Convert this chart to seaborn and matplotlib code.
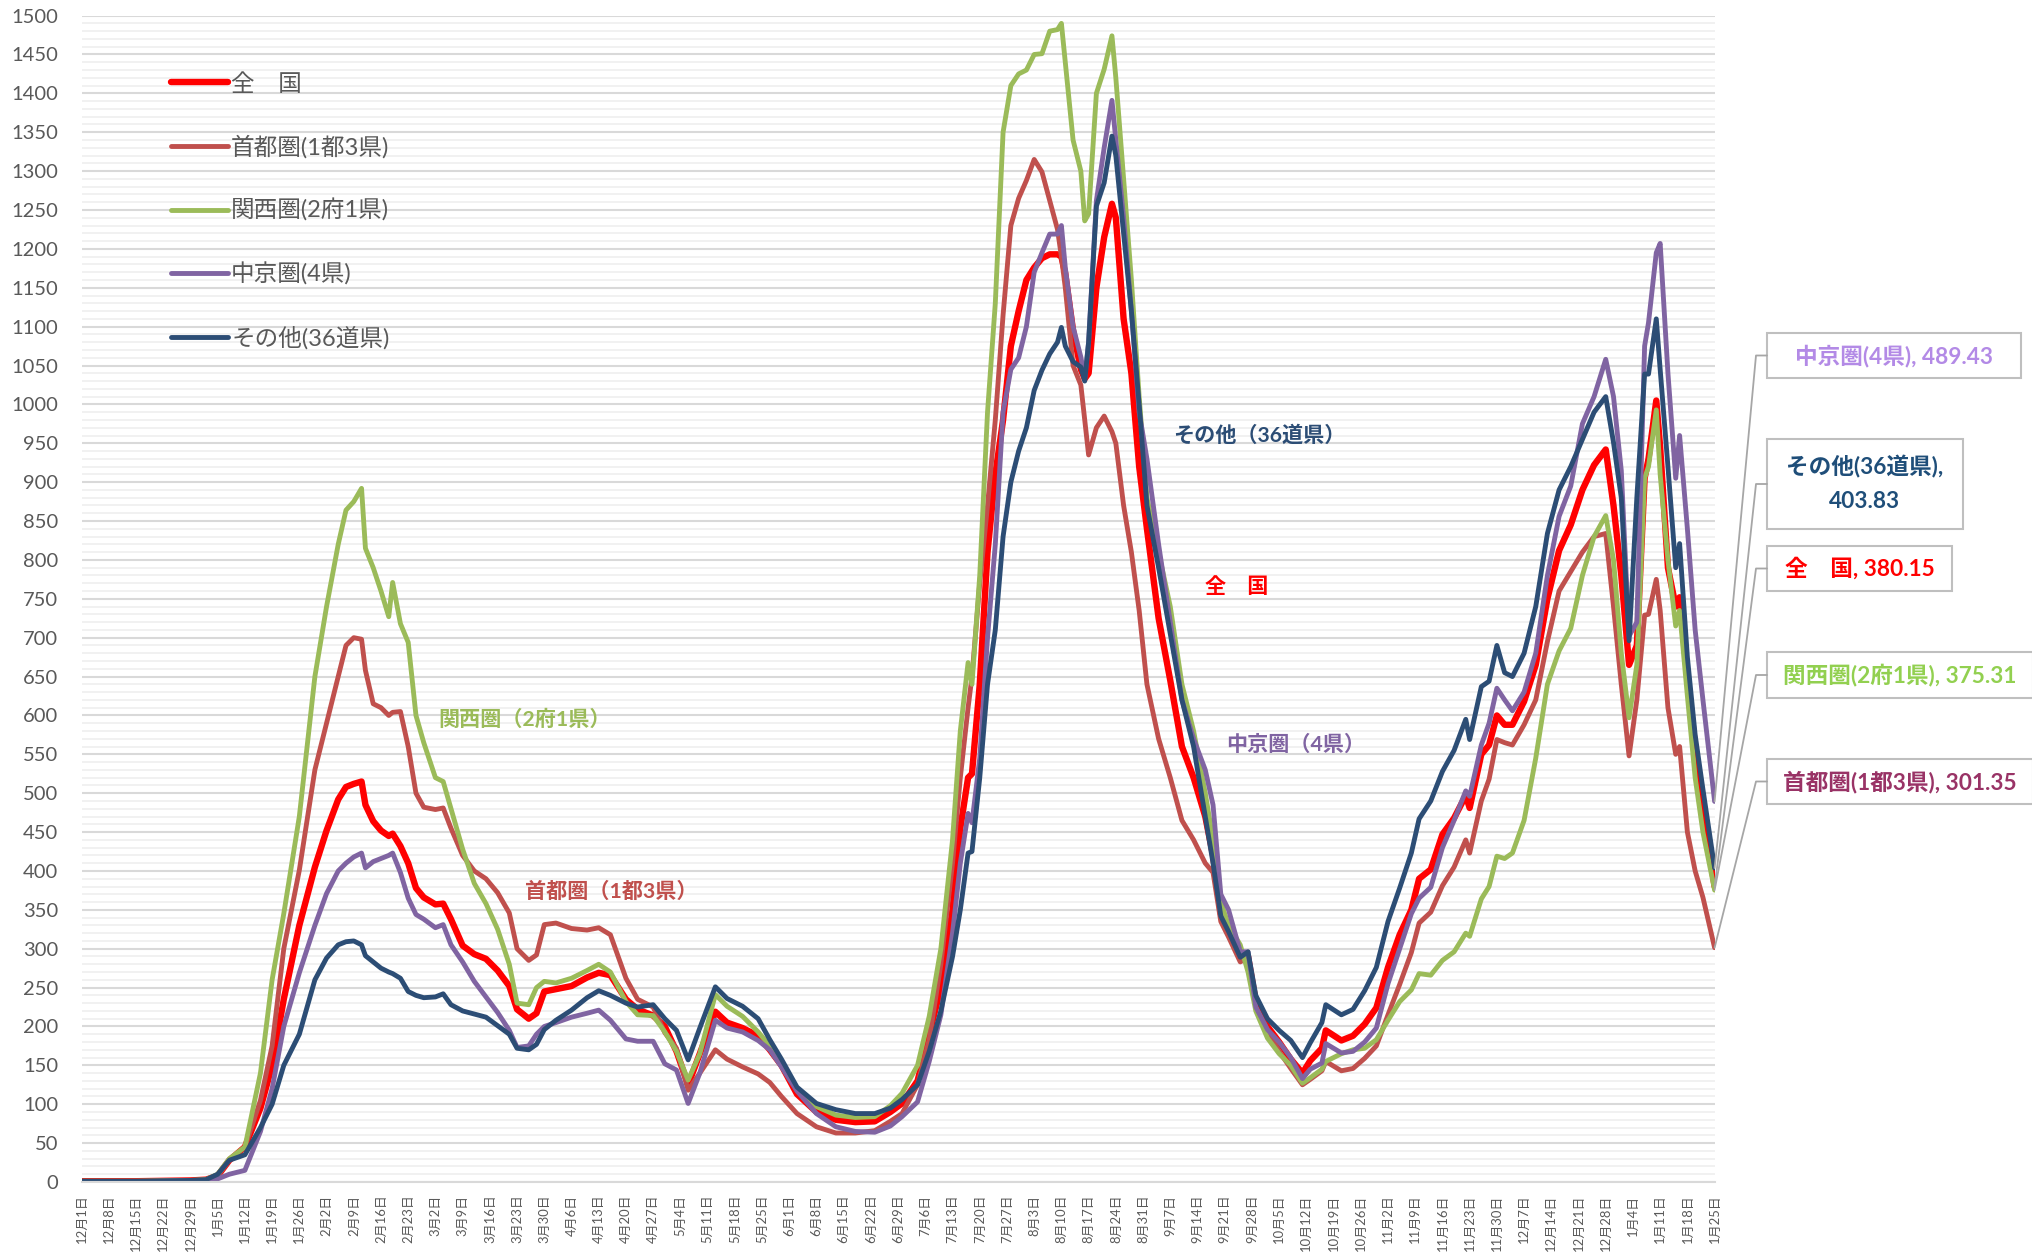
import numpy as np
import pandas as pd
import matplotlib
matplotlib.use("Agg")
import matplotlib.pyplot as plt
import matplotlib.dates as mdates
from matplotlib.ticker import MultipleLocator
from matplotlib.patches import Rectangle
from matplotlib.lines import Line2D
import seaborn as sns

# ===========================
# Data
# ===========================
start = pd.Timestamp("2021-12-01")
end = pd.Timestamp("2023-01-25")

# day offsets from 2021-12-01
days = [0, 7, 14, 21, 28, 32, 35, 38, 42, 46,
        49, 52, 56, 60, 63, 66, 68, 70, 72, 73,
        75, 77, 79, 80, 82, 84, 86, 88, 91, 93,
        95, 98, 101, 104, 107, 110, 112, 115, 117, 119,
        122, 126, 130, 133, 136, 140, 143, 147, 150, 153,
        156, 159, 163, 166, 170, 174, 177, 180, 184, 189,
        194, 199, 204, 208, 211, 215, 218, 221, 224, 226,
        228, 229, 231, 233, 235, 237, 239, 241, 243, 245,
        247, 249, 251, 252, 253, 255, 257, 258, 259, 261,
        263, 265, 266, 268, 270, 272, 274, 277, 280, 283,
        286, 289, 291, 293, 295, 298, 300, 302, 305, 308,
        311, 314, 316, 319, 320, 324, 327, 330, 333, 336,
        339, 342, 344, 347, 350, 353, 356, 357, 360, 362,
        364, 366, 368, 371, 374, 377, 380, 383, 386, 389,
        392, 394, 396, 398, 400, 402, 403, 405, 406, 408,
        410, 411, 413, 415, 417, 420]

zenkoku = [1, 1, 1, 1.5, 2, 3, 8, 28, 45, 95,
           150, 235, 330, 405, 452, 492, 508, 512, 515, 485,
           464, 452, 445, 448, 432, 410, 378, 366, 357, 358,
           338, 304, 293, 287, 272, 252, 222, 210, 217, 245,
           248, 252, 263, 269, 266, 235, 222, 214, 200, 168,
           125, 165, 219, 205, 198, 188, 170, 150, 113, 90,
           80, 77, 78, 90, 101, 130, 190, 250, 350, 455,
           520, 525, 640, 810, 910, 980, 1075, 1120, 1160, 1176,
           1188, 1193, 1193, 1190, 1168, 1095, 1045, 1033, 1040, 1150,
           1215, 1258, 1240, 1110, 1040, 920, 840, 725, 645, 560,
           520, 470, 420, 345, 325, 290, 290, 232, 200, 180,
           158, 140, 156, 172, 195, 182, 188, 203, 224, 276,
           318, 350, 390, 402, 447, 468, 497, 481, 550, 562,
           600, 588, 588, 618, 665, 750, 812, 845, 890, 922,
           942, 870, 780, 665, 690, 905, 930, 1005, 945, 790,
           740, 752, 650, 560, 480, 380.15]

shutoken = [1, 1, 1, 1.5, 2, 3, 8, 28, 45, 105,
            175, 300, 401, 530, 590, 650, 690, 700, 698, 658,
            615, 610, 600, 604, 605, 560, 500, 482, 479, 481,
            455, 420, 400, 390, 372, 346, 300, 285, 292, 331,
            333, 326, 324, 327, 318, 262, 235, 225, 192, 172,
            118, 140, 170, 158, 148, 139, 128, 110, 88, 71,
            63, 63, 66, 78, 88, 125, 183, 280, 410, 520,
            610, 650, 770, 870, 980, 1115, 1230, 1265, 1288, 1315,
            1299, 1262, 1225, 1190, 1150, 1050, 1025, 980, 935, 970,
            985, 965, 950, 870, 810, 735, 640, 570, 520, 465,
            440, 410, 398, 335, 315, 283, 289, 225, 195, 168,
            146, 125, 132, 143, 155, 143, 146, 159, 175, 215,
            254, 295, 333, 347, 381, 405, 440, 423, 490, 518,
            569, 565, 562, 588, 620, 695, 760, 785, 810, 830,
            834, 740, 640, 548, 620, 729, 730, 775, 735, 610,
            550, 560, 450, 400, 366, 301.35]

kansai = [1, 1, 1, 1.5, 2, 3, 10, 30, 45, 140,
          260, 345, 470, 650, 740, 820, 864, 875, 892, 815,
          790, 760, 727, 771, 718, 694, 600, 565, 520, 515,
          480, 428, 384, 358, 325, 280, 230, 228, 250, 258,
          256, 262, 272, 280, 270, 232, 215, 214, 193, 168,
          131, 165, 241, 226, 213, 193, 175, 153, 118, 97,
          86, 83, 84, 98, 114, 150, 213, 300, 440, 580,
          668, 640, 780, 990, 1130, 1350, 1410, 1425, 1430, 1450,
          1451, 1480, 1482, 1490, 1440, 1340, 1300, 1236, 1245, 1400,
          1431, 1474, 1420, 1290, 1160, 1010, 880, 810, 740, 640,
          580, 500, 440, 360, 330, 305, 270, 220, 185, 165,
          150, 127, 134, 145, 155, 165, 170, 172, 183, 208,
          232, 247, 268, 266, 285, 296, 320, 316, 364, 380,
          419, 416, 423, 465, 545, 640, 683, 712, 780, 830,
          857, 800, 680, 597, 665, 905, 920, 993, 910, 800,
          715, 735, 625, 520, 450, 375.31]

chukyo = [0.5, 0.5, 0.5, 1, 1.5, 2, 4, 10, 15, 65,
          120, 200, 269, 330, 371, 400, 410, 418, 423, 404,
          412, 416, 420, 423, 398, 365, 344, 338, 327, 331,
          305, 283, 258, 238, 218, 195, 173, 175, 190, 200,
          205, 212, 217, 221, 208, 184, 181, 181, 152, 144,
          101, 140, 208, 198, 193, 182, 170, 148, 117, 88,
          71, 65, 64, 72, 84, 103, 155, 215, 320, 410,
          474, 462, 545, 700, 820, 990, 1045, 1060, 1100, 1170,
          1195, 1219, 1219, 1230, 1176, 1100, 1061, 1033, 1080, 1262,
          1330, 1391, 1340, 1240, 1120, 990, 930, 820, 720, 620,
          570, 530, 485, 370, 350, 296, 296, 225, 196, 180,
          160, 133, 145, 153, 178, 166, 168, 180, 198, 255,
          300, 345, 365, 379, 430, 465, 503, 496, 562, 590,
          635, 620, 606, 630, 680, 780, 856, 895, 975, 1010,
          1058, 1010, 915, 702, 720, 1075, 1105, 1195, 1207, 1040,
          905, 960, 840, 710, 620, 489.43]

sonota = [1, 1, 1, 1.5, 2, 3, 10, 28, 35, 70,
          100, 150, 190, 260, 288, 305, 309, 310, 305, 291,
          283, 275, 270, 268, 262, 245, 240, 237, 238, 242,
          228, 220, 216, 212, 201, 190, 172, 170, 177, 196,
          208, 221, 237, 246, 240, 230, 225, 228, 210, 195,
          157, 198, 251, 236, 226, 210, 183, 158, 122, 101,
          93, 88, 88, 95, 106, 125, 168, 220, 290, 350,
          423, 425, 520, 640, 710, 830, 900, 940, 970, 1018,
          1044, 1065, 1080, 1099, 1075, 1055, 1048, 1030, 1080, 1255,
          1285, 1345, 1320, 1220, 1120, 1000, 870, 790, 705, 620,
          560, 470, 410, 342, 322, 289, 296, 240, 210, 195,
          182, 160, 179, 205, 228, 215, 222, 246, 276, 335,
          378, 423, 467, 490, 528, 555, 595, 569, 637, 644,
          690, 655, 650, 680, 740, 834, 890, 920, 955, 990,
          1010, 951, 880, 696, 880, 1039, 1039, 1110, 1045, 920,
          790, 821, 675, 575, 505, 403.83]

series_names = ["全　国", "首都圏(1都3県)", "関西圏(2府1県)", "中京圏(4県)", "その他(36道県)"]
series_values = [zenkoku, shutoken, kansai, chukyo, sonota]
line_colors = ["#FF0000", "#C0504D", "#9BBB59", "#8064A2", "#2C4D75"]
line_widths = [4.6, 3.5, 3.5, 3.5, 3.5]
box_colors = ["#FF0000", "#993366", "#92D050", "#B38AE6", "#1F4E79"]

# ===========================
# Figure setup
# ===========================
sns.set_style("white")
plt.rcParams["font.family"] = ["Lato", "Noto Sans CJK JP"]

W, H = 2032, 1254
fig = plt.figure(figsize=(W / 100, H / 100), dpi=100)
ax = fig.add_axes([81.6 / W, 1 - 1182 / H, (1714.6 - 81.6) / W, (1182 - 15.6) / H])

dates = start + pd.to_timedelta(days, unit="D")
df = pd.DataFrame({"date": dates})
for name, vals in zip(series_names, series_values):
    df[name] = vals
long_df = df.melt(id_vars="date", var_name="area", value_name="value")

for name, color, lw in zip(series_names, line_colors, line_widths):
    sns.lineplot(data=long_df[long_df["area"] == name], x="date", y="value",
                 color=color, linewidth=lw, label=name, ax=ax,
                 solid_joinstyle="round", solid_capstyle="round")

# axes, grid, ticks
ax.set_xlim(start, end)
ax.set_ylim(0, 1500)
ax.set_xlabel("")
ax.set_ylabel("")
ax.set_yticks(range(0, 1501, 50))
ax.yaxis.set_minor_locator(MultipleLocator(10))
ax.grid(which="minor", axis="y", color="#efefef", linewidth=1.2)
ax.grid(which="major", axis="y", color="#d9d9d9", linewidth=1.5)
ax.grid(which="both", axis="x", visible=False)
ax.set_axisbelow(True)
for side in ["top", "right", "left"]:
    ax.spines[side].set_visible(False)
ax.spines["bottom"].set_color("#d9d9d9")
ax.spines["bottom"].set_linewidth(1.5)

tick_dates = pd.date_range(start, end, freq="7D")
ax.set_xticks(tick_dates)
ax.set_xticklabels([f"{d.month}月{d.day}日" for d in tick_dates], rotation=90,
                   fontsize=9.4, color="#595959")
ax.tick_params(axis="x", which="major", length=5, width=1.2, color="#d9d9d9", pad=4)
ax.tick_params(axis="y", which="both", length=0, pad=17, labelsize=14.5, labelcolor="#595959")

# legend
leg = ax.legend(loc="upper left", bbox_to_anchor=(0.0547, 0.951), frameon=False,
                fontsize=17, handlelength=2.4, handletextpad=0.15, labelspacing=1.71,
                borderpad=0, borderaxespad=0, labelcolor="#595959")

# in-chart labels (text anchors in data coordinates)
inline_labels = [
    ("関西圏（2府1県）", 91.7, 595, "#9BBB59"),
    ("首都圏（1都3県）", 114, 373, "#C0504D"),
    ("その他（36道県）", 280.7, 960, "#2C4D75"),
    ("全　国", 289, 765, "#FF0000"),
    ("中京圏（4県）", 294.3, 562, "#8064A2"),
]
for text, d, v, c in inline_labels:
    ax.text(start + pd.Timedelta(days=d), v, text, color=c, fontsize=15.2,
            fontweight="bold", ha="left", va="center")

# ===========================
# End-value callout boxes (figure pixels, top-left origin)
# ===========================
def fx(px):
    return px / W

def fy(py):
    return 1 - py / H

# (series index, box left, box top, box width, box height)
boxes = [
    (3, 1767, 333, 254, 45),
    (4, 1767, 439, 196, 90),
    (0, 1767, 546, 185, 45),
    (2, 1767, 652, 266, 46),
    (1, 1767, 759, 266, 45),
]
elbow_x = 1756
end_num = mdates.date2num(end)
to_fig = fig.transFigure.inverted()

for idx, bx, by, bw, bh in boxes:
    last_val = series_values[idx][-1]
    ex, ey = to_fig.transform(ax.transData.transform((end_num, last_val)))
    cy = by + bh / 2
    fig.add_artist(Line2D([ex, fx(elbow_x), fx(bx)], [ey, fy(cy), fy(cy)],
                          transform=fig.transFigure, color="#a6a6a6", linewidth=1.3))
    fig.add_artist(Rectangle((fx(bx), fy(by + bh)), bw / W, bh / H,
                             transform=fig.transFigure, facecolor="white",
                             edgecolor="#bfbfbf", linewidth=1.5))
    name = series_names[idx]
    if idx == 4:
        label = f"{name},\n{last_val:.2f}"
    else:
        label = f"{name}, {last_val:.2f}"
    fig.text(fx(bx + bw / 2), fy(cy), label, ha="center", va="center",
             color=box_colors[idx], fontsize=16.3, fontweight="bold", linespacing=1.75)

fig.savefig("out.png", dpi=100, facecolor="white")
